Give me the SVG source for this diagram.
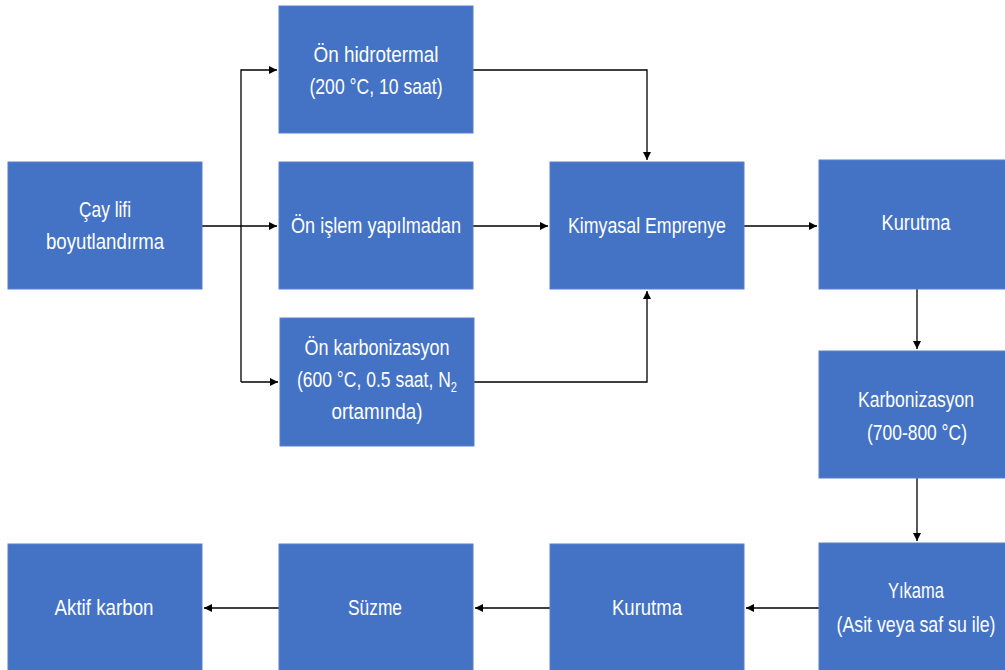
<svg xmlns="http://www.w3.org/2000/svg" width="1005" height="670" viewBox="0 0 1005 670">
<style>
.box{fill:#4472C4;stroke:#5a80c8;stroke-width:1}
.t{font-family:"Liberation Sans",Arial,sans-serif;font-size:22px;fill:#ffffff;text-anchor:middle}
.c{fill:none;stroke:#000;stroke-width:1.3}
</style>
<defs>
<marker id="ah" viewBox="0 0 10 10" refX="10" refY="5" markerWidth="8" markerHeight="8" markerUnits="userSpaceOnUse" orient="auto">
<path d="M0,0 L10,5 L0,10 z" fill="#000"/>
</marker>
</defs>
<rect width="1005" height="670" fill="#fff"/>
<g id="connectors">
<path class="c" d="M202,226 H277" marker-end="url(#ah)"/>
<path class="c" d="M241,382 V70 H277" marker-end="url(#ah)"/>
<path class="c" d="M241,382 H278" marker-end="url(#ah)"/>
<path class="c" d="M473,70 H647 V160" marker-end="url(#ah)"/>
<path class="c" d="M474,382 H647 V291" marker-end="url(#ah)"/>
<path class="c" d="M473,226 H548" marker-end="url(#ah)"/>
<path class="c" d="M744,226 H817" marker-end="url(#ah)"/>
<path class="c" d="M917,289 V349" marker-end="url(#ah)"/>
<path class="c" d="M917,478 V541" marker-end="url(#ah)"/>
<path class="c" d="M819,608 H746" marker-end="url(#ah)"/>
<path class="c" d="M550,608 H475" marker-end="url(#ah)"/>
<path class="c" d="M279,608 H204" marker-end="url(#ah)"/>
</g>
<g id="n1"><rect class="box" x="8" y="162" width="194" height="127"/>
<text class="t" x="105" y="217" textLength="52" lengthAdjust="spacingAndGlyphs">Çay lifi</text>
<text class="t" x="105" y="249" textLength="118" lengthAdjust="spacingAndGlyphs">boyutlandırma</text></g>
<g id="n2"><rect class="box" x="279" y="6" width="194" height="127"/>
<text class="t" x="376" y="62" textLength="125" lengthAdjust="spacingAndGlyphs">Ön hidrotermal</text>
<text class="t" x="376" y="94" textLength="133" lengthAdjust="spacingAndGlyphs">(200 °C, 10 saat)</text></g>
<g id="n3"><rect class="box" x="279" y="162" width="194" height="127"/>
<text class="t" x="376" y="233" textLength="170" lengthAdjust="spacingAndGlyphs">Ön işlem yapılmadan</text></g>
<g id="n4"><rect class="box" x="280" y="318" width="194" height="128"/>
<text class="t" x="377" y="355" textLength="145" lengthAdjust="spacingAndGlyphs">Ön karbonizasyon</text>
<text class="t" x="377" y="387" textLength="160" lengthAdjust="spacingAndGlyphs">(600 °C, 0.5 saat, N<tspan font-size="14" dy="5">2</tspan></text>
<text class="t" x="377" y="419" textLength="91" lengthAdjust="spacingAndGlyphs">ortamında)</text></g>
<g id="n5"><rect class="box" x="550" y="162" width="194" height="127"/>
<text class="t" x="647" y="233" textLength="158" lengthAdjust="spacingAndGlyphs">Kimyasal Emprenye</text></g>
<g id="n6"><rect class="box" x="819" y="160" width="194" height="129"/>
<text class="t" x="916" y="230" textLength="69" lengthAdjust="spacingAndGlyphs">Kurutma</text></g>
<g id="n7"><rect class="box" x="819" y="351" width="194" height="127"/>
<text class="t" x="916" y="407" textLength="116" lengthAdjust="spacingAndGlyphs">Karbonizasyon</text>
<text class="t" x="917" y="440" textLength="100" lengthAdjust="spacingAndGlyphs">(700-800 °C)</text></g>
<g id="n8"><rect class="box" x="819" y="543" width="194" height="140"/>
<text class="t" x="916" y="598" textLength="56" lengthAdjust="spacingAndGlyphs">Yıkama</text>
<text class="t" x="916" y="632" textLength="159" lengthAdjust="spacingAndGlyphs">(Asit veya saf su ile)</text></g>
<g id="n9"><rect class="box" x="550" y="544" width="194" height="140"/>
<text class="t" x="647" y="615" textLength="70" lengthAdjust="spacingAndGlyphs">Kurutma</text></g>
<g id="n10"><rect class="box" x="279" y="544" width="194" height="140"/>
<text class="t" x="375" y="615" textLength="54" lengthAdjust="spacingAndGlyphs">Süzme</text></g>
<g id="n11"><rect class="box" x="8" y="544" width="194" height="140"/>
<text class="t" x="104" y="615" textLength="99" lengthAdjust="spacingAndGlyphs">Aktif karbon</text></g>
</svg>
